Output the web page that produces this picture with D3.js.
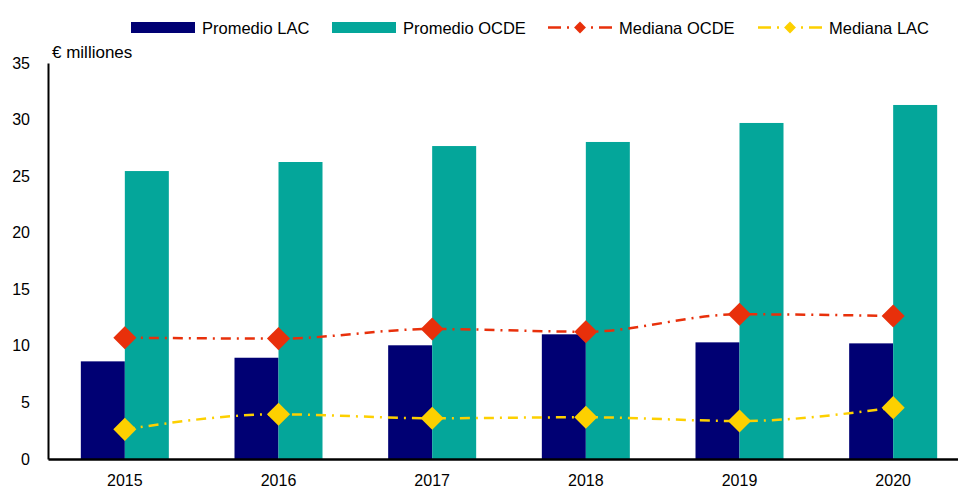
<!DOCTYPE html>
<html>
<head>
<meta charset="utf-8">
<script src="https://cdn.jsdelivr.net/npm/d3@7"></script>
<style>
  body { margin: 0; background: #fff; }
  text { font-family: "Liberation Sans", Arial, sans-serif; fill: #000; }
</style>
</head>
<body>
<svg id="chart" width="958" height="489"></svg>
<script>
// data
var years = ["2015", "2016", "2017", "2018", "2019", "2020"];
var promedioLAC = [8.63, 8.95, 10.05, 11.02, 10.31, 10.22];
var promedioOCDE = [25.45, 26.25, 27.66, 28.02, 29.70, 31.29];
var medianaOCDE = [10.72, 10.64, 11.49, 11.25, 12.79, 12.64];
var medianaLAC = [2.62, 3.95, 3.60, 3.69, 3.36, 4.54];
var yTicks = [0, 5, 10, 15, 20, 25, 30, 35];

var navy = "#000073", teal = "#04a69a", red = "#e8300b", yellow = "#fdd000";

var svg = d3.select("#chart");
var plotLeft = 48, plotRight = 970, plotTop = 63, plotBottom = 459;

var x = d3.scaleBand().domain(years).range([plotLeft, plotRight]).padding(0);
var y = d3.scaleLinear().domain([0, 35]).range([plotBottom, plotTop]);
var barW = 44;
var x1 = d3.scaleBand().domain(["LAC", "OCDE"])
        .range([x.bandwidth()/2 - barW, x.bandwidth()/2 + barW]);

// bars
var bars = [["LAC", promedioLAC, navy], ["OCDE", promedioOCDE, teal]];
bars.forEach(function(b){
  svg.append("g").selectAll("rect")
     .data(b[1])
     .enter().append("rect")
       .attr("x", function(d, i){ return x(years[i]) + x1(b[0]); })
       .attr("width", x1.bandwidth())
       .attr("y", function(d){ return y(d); })
       .attr("height", function(d){ return y(0) - y(d); })
       .style("fill", b[2]);
});

// axes
var yAxis = svg.append("g")
     .attr("transform", "translate(" + plotLeft + ",0)")
     .call(d3.axisLeft(y).tickValues(yTicks).tickSize(0).tickPadding(18));
yAxis.select(".domain").attr("stroke", "#000").attr("stroke-width", 2);
yAxis.selectAll("text").style("font-size", "16px").style("font-family", "Liberation Sans, Arial");

var xAxis = svg.append("g")
     .attr("transform", "translate(0," + plotBottom + ")")
     .call(d3.axisBottom(x).tickSize(0).tickPadding(16));
xAxis.select(".domain").attr("stroke", "#000").attr("stroke-width", 2.5);
xAxis.selectAll("text").style("font-size", "16px").style("font-family", "Liberation Sans, Arial");

svg.append("text").attr("x", 52).attr("y", 58)
   .style("font-size", "17px").text("€ milliones");

// median lines
var dash = "10,6,2,6";
var diamond = d3.symbol().type(d3.symbolDiamond2);
function cx(i){ return x(years[i]) + x.bandwidth()/2; }

[[medianaOCDE, red], [medianaLAC, yellow]].forEach(function(s){
  var line = d3.line()
      .x(function(d, i){ return cx(i); })
      .y(function(d){ return y(d); })
      .curve(d3.curveMonotoneX);
  svg.append("path").datum(s[0])
     .attr("d", line)
     .attr("fill", "none")
     .attr("stroke", s[1])
     .attr("stroke-width", 2.5)
     .attr("stroke-dasharray", dash);
  svg.append("g").selectAll("path")
     .data(s[0])
     .enter().append("path")
       .attr("d", diamond.size(340))
       .attr("transform", function(d, i){ return "translate(" + cx(i) + "," + y(d) + ")"; })
       .style("fill", s[1]);
});

// legend
var legend = svg.append("g");
var legItems = [
  {label: "Promedio LAC", color: navy, type: "bar", x: 131},
  {label: "Promedio OCDE", color: teal, type: "bar", x: 332},
  {label: "Mediana OCDE", color: red, type: "line", x: 548},
  {label: "Mediana LAC", color: yellow, type: "line", x: 758}
];
legItems.forEach(function(l){
  if (l.type == "bar") {
    legend.append("rect").attr("x", l.x).attr("y", 22).attr("width", 64).attr("height", 11)
          .style("fill", l.color);
  } else {
    legend.append("line").attr("x1", l.x).attr("x2", l.x + 65).attr("y1", 27.5).attr("y2", 27.5)
          .attr("stroke", l.color).attr("stroke-width", 2.5)
          .attr("stroke-dasharray", "13,6,2,22,2,6,13");
    legend.append("path").attr("d", diamond.size(90))
          .attr("transform", "translate(" + (l.x + 32) + ",27.5)")
          .style("fill", l.color);
  }
  legend.append("text").attr("x", l.x + 71).attr("y", 33.5)
        .style("font-size", "16.5px").text(l.label);
});
</script>
</body>
</html>
